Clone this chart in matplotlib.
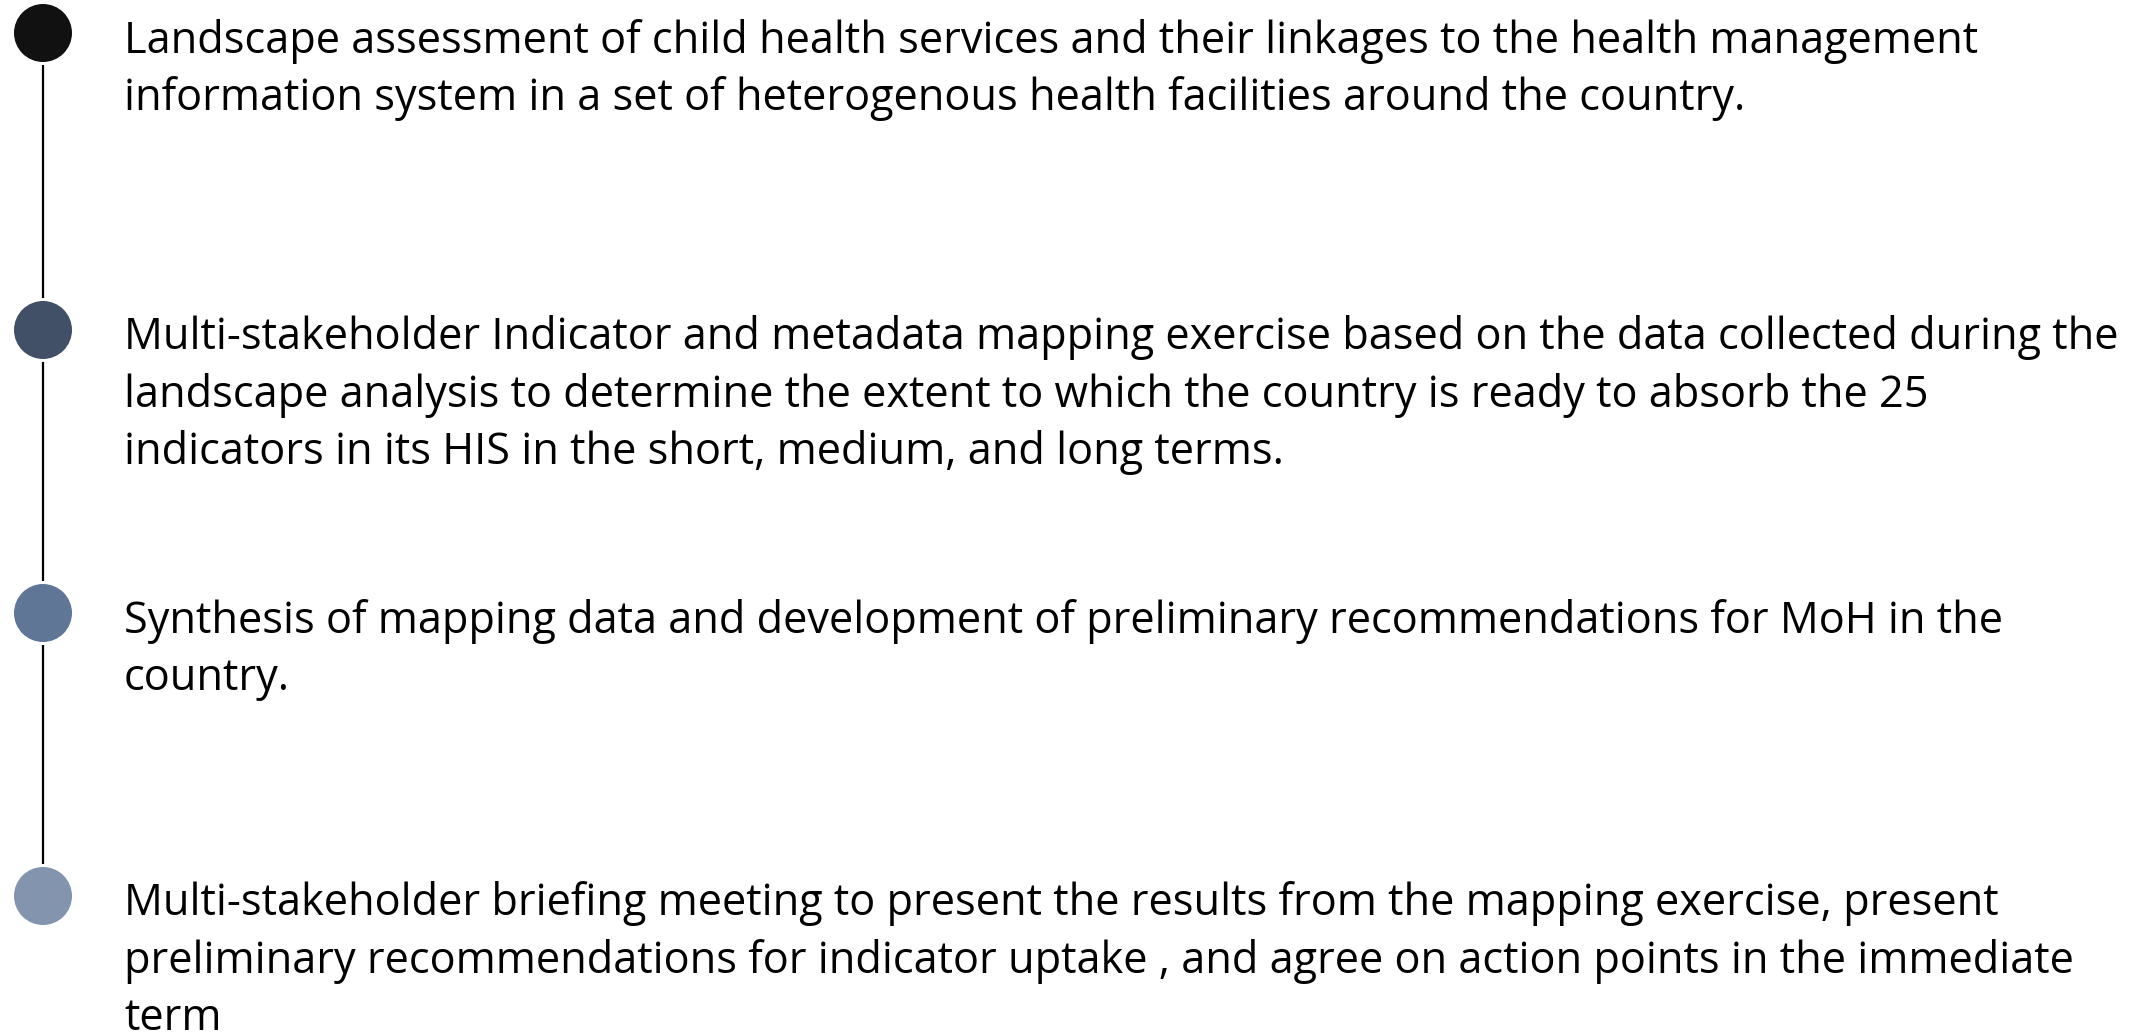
import matplotlib
matplotlib.use("Agg")
import matplotlib.pyplot as plt
from matplotlib.patches import Circle

# step texts, one list of lines per step
steps = [
    ["Landscape assessment of child health services and their linkages to the health management",
     "information system in a set of heterogenous health facilities around the country."],
    ["Multi-stakeholder Indicator and metadata mapping exercise based on the data collected during the",
     "landscape analysis to determine the extent to which the country is ready to absorb the 25",
     "indicators in its HIS in the short, medium, and long terms."],
    ["Synthesis of mapping data and development of preliminary recommendations for MoH in the",
     "country."],
    ["Multi-stakeholder briefing meeting to present the results from the mapping exercise, present",
     "preliminary recommendations for indicator uptake , and agree on action points in the immediate",
     "term"],
]
dot_colors = ["#111111", "#415066", "#607696", "#8394AE"]

# layout (pixels)
W, H = 2143, 1035
dot_x, dot_r = 43, 29
dot_y = [33, 330, 613, 896]
text_x = 124
line_gap = 57.4
text_dy = 8
longest_w = 1995  # pixel width of the longest line in the reference
font = "Open Sans"

fig = plt.figure(figsize=(W / 100, H / 100), dpi=100)
ax = fig.add_axes([0, 0, 1, 1])
ax.set_xlim(0, W)
ax.set_ylim(H, 0)
ax.axis("off")

# fit font size to the longest line
probe = ax.text(0, 0, steps[1][0], fontsize=30, family=font)
fig.canvas.draw()
pw = probe.get_window_extent(fig.canvas.get_renderer()).width
probe.remove()
fs = 30 * longest_w / pw

# connector lines between dots
for y0, y1 in zip(dot_y[:-1], dot_y[1:]):
    ax.plot([dot_x, dot_x], [y0 + dot_r + 3, y1 - dot_r - 3], color="black", lw=1.6,
            solid_capstyle="butt")

for i, (lines, c) in enumerate(zip(steps, dot_colors)):
    ax.add_patch(Circle((dot_x, dot_y[i]), dot_r, color=c, lw=0))
    for j, line in enumerate(lines):
        ax.text(text_x, dot_y[i] + text_dy + j * line_gap, line, fontsize=fs,
                family=font, va="center", ha="left", color="black")

fig.savefig("out.png", dpi=100)
